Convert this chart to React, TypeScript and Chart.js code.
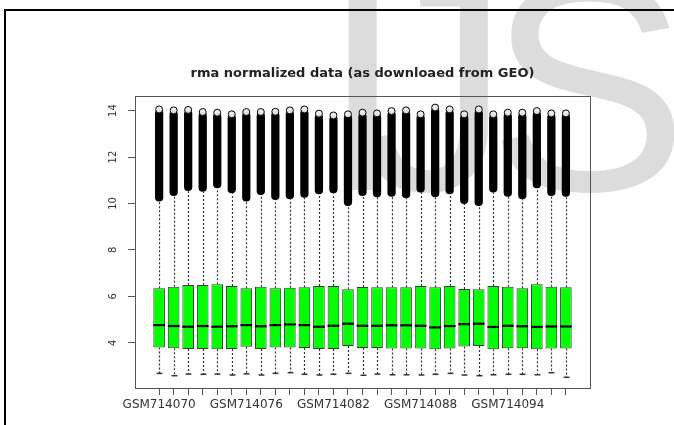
import React, { useEffect, useRef } from 'react';
import { Chart, registerables } from 'chart.js';

Chart.register(...registerables);

const categories = [
  'GSM714070', 'GSM714071', 'GSM714072', 'GSM714073', 'GSM714074', 'GSM714075',
  'GSM714076', 'GSM714077', 'GSM714078', 'GSM714079', 'GSM714080', 'GSM714081',
  'GSM714082', 'GSM714083', 'GSM714084', 'GSM714085', 'GSM714086', 'GSM714087',
  'GSM714088', 'GSM714089', 'GSM714090', 'GSM714091', 'GSM714092', 'GSM714093',
  'GSM714094', 'GSM714095', 'GSM714096', 'GSM714097', 'GSM714098',
];
const shownLabels = ['GSM714070', 'GSM714076', 'GSM714082', 'GSM714088', 'GSM714094'];
const yTicks = [4, 6, 8, 10, 12, 14];

const lowerWhisker = [2.68, 2.58, 2.65, 2.64, 2.65, 2.61, 2.66, 2.61, 2.68, 2.71, 2.64, 2.61, 2.64, 2.68, 2.60,
  2.65, 2.62, 2.62, 2.61, 2.64, 2.68, 2.61, 2.58, 2.62, 2.64, 2.64, 2.62, 2.71, 2.51];
const q1 = [3.80, 3.76, 3.73, 3.73, 3.72, 3.73, 3.83, 3.73, 3.79, 3.79, 3.77, 3.73, 3.73, 3.86, 3.77,
  3.77, 3.75, 3.75, 3.75, 3.72, 3.75, 3.84, 3.86, 3.72, 3.76, 3.76, 3.72, 3.75, 3.75];
const median = [4.76, 4.72, 4.69, 4.72, 4.69, 4.71, 4.76, 4.71, 4.76, 4.79, 4.76, 4.69, 4.73, 4.82, 4.73,
  4.73, 4.75, 4.75, 4.73, 4.66, 4.72, 4.80, 4.82, 4.68, 4.73, 4.71, 4.68, 4.70, 4.70];
const q3 = [6.35, 6.41, 6.49, 6.49, 6.52, 6.44, 6.35, 6.41, 6.35, 6.37, 6.39, 6.44, 6.44, 6.30, 6.40,
  6.39, 6.39, 6.39, 6.44, 6.39, 6.44, 6.31, 6.30, 6.44, 6.41, 6.35, 6.52, 6.41, 6.39];
const upperWhisker = [10.08, 10.32, 10.54, 10.51, 10.66, 10.44, 10.08, 10.37, 10.15, 10.18, 10.25, 10.40, 10.44, 9.89, 10.32,
  10.27, 10.29, 10.22, 10.47, 10.27, 10.40, 9.98, 9.89, 10.47, 10.29, 10.18, 10.66, 10.32, 10.29];
const maxOutlier = [14.05, 14.01, 14.03, 13.94, 13.91, 13.84, 13.94, 13.94, 13.95, 14.01, 14.05, 13.87, 13.79, 13.84, 13.91,
  13.88, 13.98, 14.01, 13.84, 14.13, 14.05, 13.84, 14.05, 13.84, 13.91, 13.91, 13.98, 13.88, 13.88];

const TITLE = 'rma normalized data (as downloaed from GEO)';
const WATERMARK = ['I', 'J', 'S'];

const boxPlotPlugin = {
  id: 'boxPlotExtras',
  beforeDraw(chart: any) {
    const ctx = chart.ctx;
    ctx.save();
    ctx.fillStyle = '#ffffff';
    ctx.fillRect(0, 0, chart.width, chart.height);
    // background watermark letters
    ctx.fillStyle = '#dcdcdc';
    ctx.font = '300px "Liberation Sans", Arial, sans-serif';
    ctx.textBaseline = 'alphabetic';
    ctx.textAlign = 'left';
    const origins = [321, 360, 488];
    WATERMARK.forEach((ch, i) => ctx.fillText(ch, origins[i], 190));
    ctx.restore();
  },
  beforeDatasetsDraw(chart: any) {
    const ctx = chart.ctx;
    const xs = chart.scales.x;
    const ys = chart.scales.y;
    const step = xs.getPixelForValue(2) - xs.getPixelForValue(1);
    const staple = step * 0.4;
    ctx.save();
    ctx.strokeStyle = '#333';
    categories.forEach((_, i) => {
      const x = Math.round(xs.getPixelForValue(i + 1)) + 0.5;
      ctx.lineWidth = 1.2;
      ctx.setLineDash([2, 2]);
      ctx.beginPath();
      ctx.moveTo(x, ys.getPixelForValue(q3[i]));
      ctx.lineTo(x, ys.getPixelForValue(upperWhisker[i]));
      ctx.moveTo(x, ys.getPixelForValue(q1[i]));
      ctx.lineTo(x, ys.getPixelForValue(lowerWhisker[i]));
      ctx.stroke();
      ctx.setLineDash([]);
      ctx.lineWidth = 1.5;
      ctx.beginPath();
      const yl = ys.getPixelForValue(lowerWhisker[i]);
      ctx.moveTo(x - staple / 2, yl);
      ctx.lineTo(x + staple / 2, yl);
      ctx.stroke();
    });
    ctx.restore();
  },
  afterDatasetsDraw(chart: any) {
    const ctx = chart.ctx;
    const xs = chart.scales.x;
    const ys = chart.scales.y;
    const step = xs.getPixelForValue(2) - xs.getPixelForValue(1);
    const bw = step * 0.8;
    ctx.save();
    ctx.strokeStyle = '#000';
    ctx.lineWidth = 2.2;
    categories.forEach((_, i) => {
      const x = xs.getPixelForValue(i + 1);
      const y = ys.getPixelForValue(median[i]);
      ctx.beginPath();
      ctx.moveTo(x - bw / 2, y);
      ctx.lineTo(x + bw / 2, y);
      ctx.stroke();
    });
    ctx.restore();
  },
  afterDraw(chart: any) {
    const ctx = chart.ctx;
    const ca = chart.chartArea;
    const xs = chart.scales.x;
    const ys = chart.scales.y;
    ctx.save();
    // plot frame
    ctx.strokeStyle = '#555';
    ctx.lineWidth = 1;
    ctx.strokeRect(Math.round(ca.left) + 0.5, Math.round(ca.top) + 0.5, Math.round(ca.right - ca.left), Math.round(ca.bottom - ca.top));
    // outer page frame
    ctx.strokeStyle = '#000';
    ctx.lineWidth = 2;
    ctx.beginPath();
    ctx.moveTo(5, chart.height);
    ctx.lineTo(5, 10);
    ctx.lineTo(chart.width, 10);
    ctx.stroke();
    // title
    ctx.fillStyle = '#222';
    ctx.font = 'bold 13px "DejaVu Sans", sans-serif';
    ctx.textAlign = 'center';
    ctx.textBaseline = 'middle';
    ctx.fillText(TITLE, (ca.left + ca.right) / 2, 74);
    // y labels (rotated)
    ctx.fillStyle = '#333';
    ctx.font = '10px "DejaVu Sans", sans-serif';
    yTicks.forEach((v) => {
      const y = ys.getPixelForValue(v);
      ctx.save();
      ctx.translate(ca.left - 22, y);
      ctx.rotate(-Math.PI / 2);
      ctx.textAlign = 'center';
      ctx.textBaseline = 'middle';
      ctx.fillText(String(v), 0, 0);
      ctx.restore();
    });
    // x labels
    ctx.font = '12px "DejaVu Sans", sans-serif';
    ctx.textAlign = 'center';
    ctx.textBaseline = 'middle';
    categories.forEach((c, i) => {
      if (shownLabels.includes(c)) {
        ctx.fillText(c, xs.getPixelForValue(i + 1), ca.bottom + 17);
      }
    });
    ctx.restore();
  },
};

export default function App() {
  const ref = useRef<HTMLCanvasElement>(null);
  useEffect(() => {
    if (!ref.current) return;
    const chart = new Chart(ref.current, {
      type: 'bar',
      data: {
        datasets: [
          {
            type: 'bar',
            label: 'IQR',
            data: categories.map((_, i) => ({ x: i + 1, y: [q1[i], q3[i]] })) as any,
            backgroundColor: '#00ff00',
            borderColor: '#3a3a3a',
            borderWidth: 1,
            borderSkipped: false,
            barPercentage: 0.8,
            categoryPercentage: 1,
            grouped: false,
            order: 2,
          } as any,
          {
            type: 'bar',
            label: 'outliers',
            data: categories.map((_, i) => ({ x: i + 1, y: [upperWhisker[i], maxOutlier[i]] })) as any,
            backgroundColor: '#000000',
            borderWidth: 0,
            borderRadius: 4,
            borderSkipped: false,
            barPercentage: 0.57,
            categoryPercentage: 1,
            grouped: false,
            order: 1,
          } as any,
          {
            type: 'scatter',
            label: 'max',
            data: categories.map((_, i) => ({ x: i + 1, y: maxOutlier[i] })),
            pointRadius: 3.5,
            pointBackgroundColor: 'rgba(235,235,235,0.95)',
            pointBorderColor: '#000',
            pointBorderWidth: 1,
            order: 0,
          } as any,
        ],
      },
      options: {
        animation: false,
        responsive: true,
        maintainAspectRatio: false,
        layout: { padding: { left: 128, right: 84, top: 96, bottom: 30 } },
        plugins: { legend: { display: false }, tooltip: { enabled: false }, title: { display: false } },
        scales: {
          x: {
            type: 'linear',
            offset: false,
            min: 1 - 1.66,
            max: categories.length + 1.66,
            afterBuildTicks: (s: any) => {
              s.ticks = categories.map((_, i) => ({ value: i + 1 }));
            },
            ticks: { display: false },
            grid: { display: true, offset: false, drawOnChartArea: false, drawTicks: true, tickLength: 7, color: '#555' },
            border: { display: true, color: '#555' },
          },
          y: {
            type: 'linear',
            min: 2.05,
            max: 14.63,
            afterBuildTicks: (s: any) => {
              s.ticks = yTicks.map((v) => ({ value: v }));
            },
            ticks: { display: false },
            grid: { display: true, drawOnChartArea: false, drawTicks: true, tickLength: 7, color: '#555' },
            border: { display: true, color: '#555' },
          },
        },
      },
      plugins: [boxPlotPlugin],
    });
    return () => chart.destroy();
  }, []);
  return (
    <div style={{ position: 'absolute', left: 0, top: 0, width: 674, height: 425 }}>
      <canvas ref={ref} />
    </div>
  );
}
